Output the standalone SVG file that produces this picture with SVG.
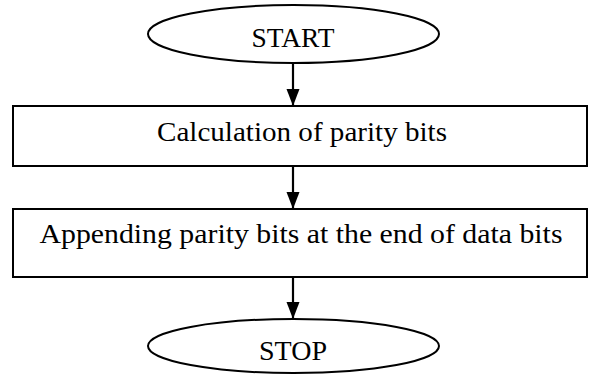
<svg xmlns="http://www.w3.org/2000/svg" width="590" height="374" viewBox="0 0 590 374">
  <style>
    .shape { fill: #ffffff; stroke: #000000; stroke-width: 2; }
    .label { font-family: "Liberation Serif", "Times New Roman", serif; font-size: 27px; fill: #000000; text-anchor: middle; }
    .edge { stroke: #000000; stroke-width: 2.2; fill: none; }
  </style>
  <defs>
    <marker id="arrow" markerUnits="userSpaceOnUse" markerWidth="17" markerHeight="14" refX="17" refY="6.5" orient="auto">
      <path d="M0,0 L17,6.5 L0,13 Z" fill="#000000"/>
    </marker>
  </defs>

  <rect width="590" height="374" fill="#ffffff"/>

  <g id="connectors">
    <line class="edge" x1="293" y1="63" x2="293" y2="106" marker-end="url(#arrow)"/>
    <line class="edge" x1="293" y1="166" x2="293" y2="209" marker-end="url(#arrow)"/>
    <line class="edge" x1="293" y1="277" x2="293" y2="319" marker-end="url(#arrow)"/>
  </g>

  <g id="start">
    <ellipse class="shape" cx="293.5" cy="34" rx="145.5" ry="29"/>
    <text class="label" x="293" y="47" textLength="83" lengthAdjust="spacingAndGlyphs">START</text>
  </g>

  <g id="calc-parity">
    <rect class="shape" x="13" y="106" width="574" height="60"/>
    <text class="label" x="302" y="141" textLength="290" lengthAdjust="spacingAndGlyphs">Calculation of parity bits</text>
  </g>

  <g id="append-parity">
    <rect class="shape" x="13" y="209" width="574" height="68"/>
    <text class="label" x="301" y="243" textLength="523" lengthAdjust="spacingAndGlyphs">Appending parity bits at the end of data bits</text>
  </g>

  <g id="stop">
    <ellipse class="shape" cx="293.5" cy="346" rx="145.5" ry="27"/>
    <text class="label" x="293" y="360" textLength="68" lengthAdjust="spacingAndGlyphs">STOP</text>
  </g>
</svg>
